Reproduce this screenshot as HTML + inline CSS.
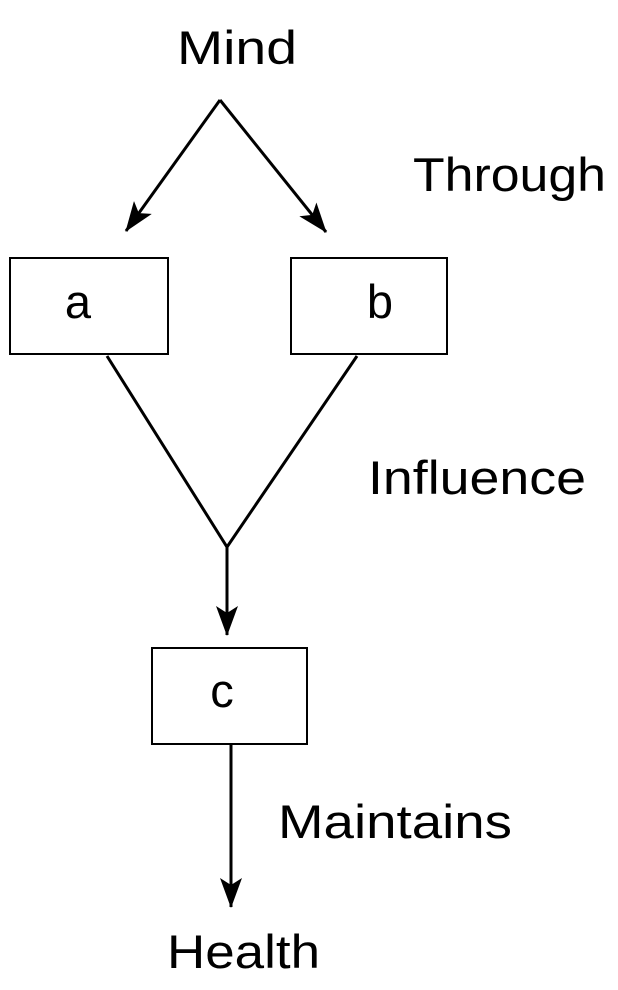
<!DOCTYPE html>
<html><head><meta charset="utf-8"><style>
html,body{margin:0;padding:0;background:#fff;}
svg{display:block}
text{font-family:"Liberation Sans",sans-serif;font-size:47px;fill:#000}
</style></head><body>
<svg width="618" height="990" viewBox="0 0 618 990" xmlns="http://www.w3.org/2000/svg">
<defs>
<marker id="ar" markerWidth="30" markerHeight="22" refX="29" refY="11" orient="auto" markerUnits="userSpaceOnUse" viewBox="0 0 30 22">
<path d="M0,0 L30,11 L0,22 L7,11 Z" fill="#000"/>
</marker>
</defs>
<g stroke="#000" stroke-width="3" fill="none">
<line x1="220" y1="100" x2="126" y2="231" marker-end="url(#ar)"/>
<line x1="220" y1="100" x2="326" y2="232" marker-end="url(#ar)"/>
<path d="M107,356 L227,547 L357,356"/>
<line x1="227" y1="547" x2="227" y2="635" marker-end="url(#ar)"/>
<line x1="231" y1="744" x2="231" y2="907" marker-end="url(#ar)"/>
</g>
<g stroke="#000" stroke-width="2" fill="#fff">
<rect x="10" y="258" width="158" height="96"/>
<rect x="291" y="258" width="156" height="96"/>
<rect x="152" y="648" width="155" height="96"/>
</g>
<text x="177" y="64" textLength="120" lengthAdjust="spacingAndGlyphs">Mind</text>
<text x="413" y="191" textLength="193" lengthAdjust="spacingAndGlyphs">Through</text>
<text x="78" y="318" text-anchor="middle">a</text>
<text x="380" y="318" text-anchor="middle">b</text>
<text x="368" y="494" textLength="218" lengthAdjust="spacingAndGlyphs">Influence</text>
<text x="222" y="707" text-anchor="middle">c</text>
<text x="278" y="838" textLength="234" lengthAdjust="spacingAndGlyphs">Maintains</text>
<text x="167" y="968" textLength="153" lengthAdjust="spacingAndGlyphs">Health</text>
</svg>
</body></html>
